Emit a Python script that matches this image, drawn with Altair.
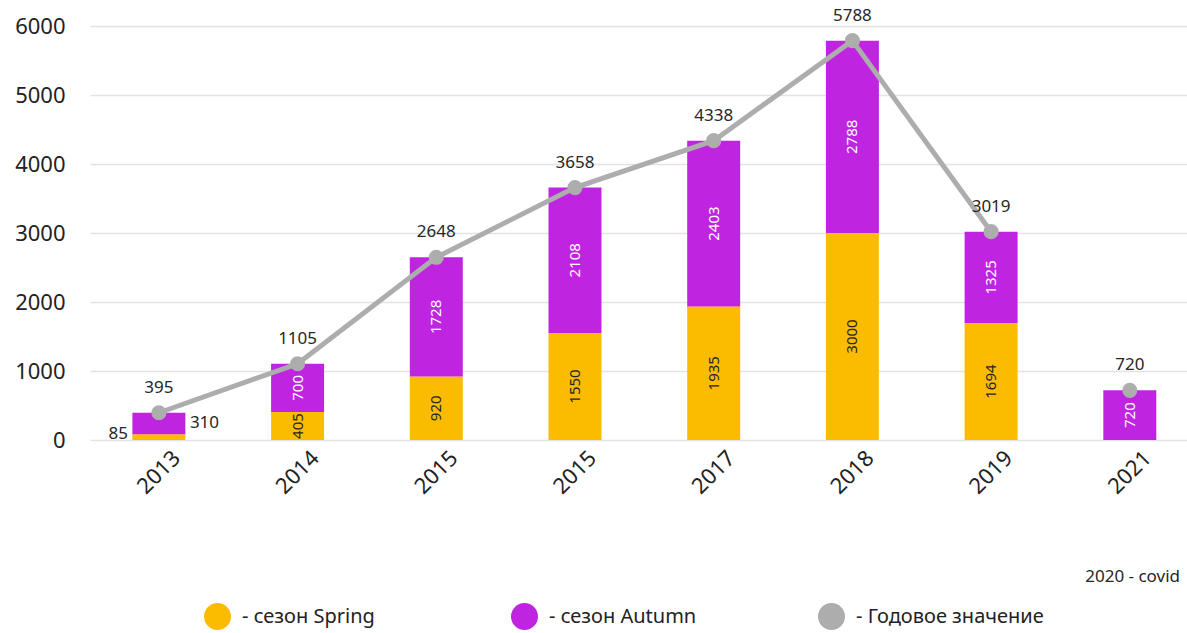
import json
import altair as alt
import pandas as pd

# ---- data ----
years = ["2013", "2014", "2015", "2015", "2017", "2018", "2019", "2021"]
spring = [85, 405, 920, 1550, 1935, 3000, 1694, 0]
autumn = [310, 700, 1728, 2108, 2403, 2788, 1325, 720]
total = [395, 1105, 2648, 3658, 4338, 5788, 3019, 720]
series_names = ["- сезон Spring", "- сезон Autumn", "- Годовое значение"]
series_colors = ["#FBBC00", "#BF24E1", "#ADADAD"]
y_ticks = [0, 1000, 2000, 3000, 4000, 5000, 6000]
note = "2020 - covid"
gap_year = 2020  # no data (covid) -> the yearly line is broken here

keys = [str(i) for i in range(len(years))]

rows = []
for k, s, a in zip(keys, spring, autumn):
    rows.append({"key": k, "season": series_names[0], "ord": 0, "value": s})
    rows.append({"key": k, "season": series_names[1], "ord": 1, "value": a})
long_df = pd.DataFrame(rows)
tot_df = pd.DataFrame({
    "key": keys, "total": total, "series": series_names[2],
    "segment": [int(y) > gap_year for y in years],
})

FONT = "Noto Sans"
DARK = "#262626"

x_enc = alt.X(
    "key:N",
    sort=keys,
    scale=alt.Scale(paddingInner=0.618, paddingOuter=0.2635, align=0.58),
    axis=alt.Axis(
        title=None, domain=False, ticks=False, grid=False,
        labelAngle=-45, labelAlign="center", labelBaseline="middle",
        labelPadding=32, labelFontSize=22, labelColor="#222", labelFont=FONT,
        labelExpr=json.dumps(years) + "[toNumber(datum.value)]",
    ),
)
y_scale = alt.Scale(domain=[0, 6000], nice=False)
y_axis = alt.Axis(
    title=None, values=y_ticks, format="d", domain=False, ticks=False,
    grid=True, gridColor="#e3e3e3", gridWidth=1.5,
    labelFontSize=22, labelColor="#222", labelPadding=25, labelFont=FONT,
)
legend = alt.Legend(
    title=None, orient="none", legendX=114, legendY=577,
    direction="horizontal", symbolType="circle", symbolSize=729,
    symbolOpacity=1, symbolStrokeWidth=0, labelFontSize=20, labelColor="#222",
    labelFont=FONT, labelOffset=11, labelLimit=400, columnPadding=81,
    gridAlign="all", padding=0,
)
color_scale = alt.Scale(domain=series_names, range=series_colors)

bars = alt.Chart(long_df).mark_bar().encode(
    x=x_enc,
    y=alt.Y("value:Q", stack="zero", scale=y_scale, axis=y_axis),
    color=alt.Color("season:N", scale=color_scale, legend=legend),
    order=alt.Order("ord:Q"),
)

lab_base = alt.Chart(long_df).transform_stack(
    stack="value", groupby=["key"], sort=[alt.SortField("ord", order="ascending")],
    as_=["v0", "v1"],
).transform_calculate(mid="(datum.v0 + datum.v1) / 2")

inner = lab_base.transform_filter("datum.value >= 400").mark_text(
    angle=270, fontSize=15, font=FONT
).encode(
    x=x_enc, y=alt.Y("mid:Q", scale=y_scale), text="value:Q",
    color=alt.condition("datum.ord == 0", alt.value(DARK), alt.value("white")),
)
out_spring = lab_base.transform_filter("datum.value > 0 && datum.value < 400 && datum.ord == 0").mark_text(
    align="right", dx=-31, dy=-3, fontSize=17, font=FONT, color=DARK
).encode(x=x_enc, y=alt.Y("mid:Q", scale=y_scale), text="value:Q")
out_autumn = lab_base.transform_filter("datum.value > 0 && datum.value < 400 && datum.ord == 1").mark_text(
    align="left", dx=31, fontSize=17, font=FONT, color=DARK
).encode(x=x_enc, y=alt.Y("mid:Q", scale=y_scale), text="value:Q")

line = alt.Chart(tot_df).mark_line(color="#ADADAD", strokeWidth=5).encode(
    x=x_enc, y=alt.Y("total:Q", scale=y_scale), detail="segment:N"
)
points = alt.Chart(tot_df).mark_circle(size=230, opacity=1).encode(
    x=x_enc, y=alt.Y("total:Q", scale=y_scale),
    color=alt.Color("series:N", scale=color_scale, legend=legend),
)
tot_labels = alt.Chart(tot_df).mark_text(dy=-25, fontSize=17, font=FONT, color=DARK).encode(
    x=x_enc, y=alt.Y("total:Q", scale=y_scale), text="total:Q"
)
note_layer = alt.Chart(pd.DataFrame({"note": [note]})).mark_text(
    align="right", fontSize=17, font=FONT, color=DARK
).encode(x=alt.value(1090), y=alt.value(551), text="note:N")

chart = alt.layer(
    bars, inner, out_spring, out_autumn, line, points, tot_labels, note_layer
).properties(
    width=1097, height=414,
    padding={"left": 90, "top": 26, "right": 0, "bottom": 193},
    autosize=alt.AutoSizeParams(type="none"),
).configure(font=FONT).configure_view(stroke=None)

chart.save("out.html", embed_options={"renderer": "svg", "actions": False})
